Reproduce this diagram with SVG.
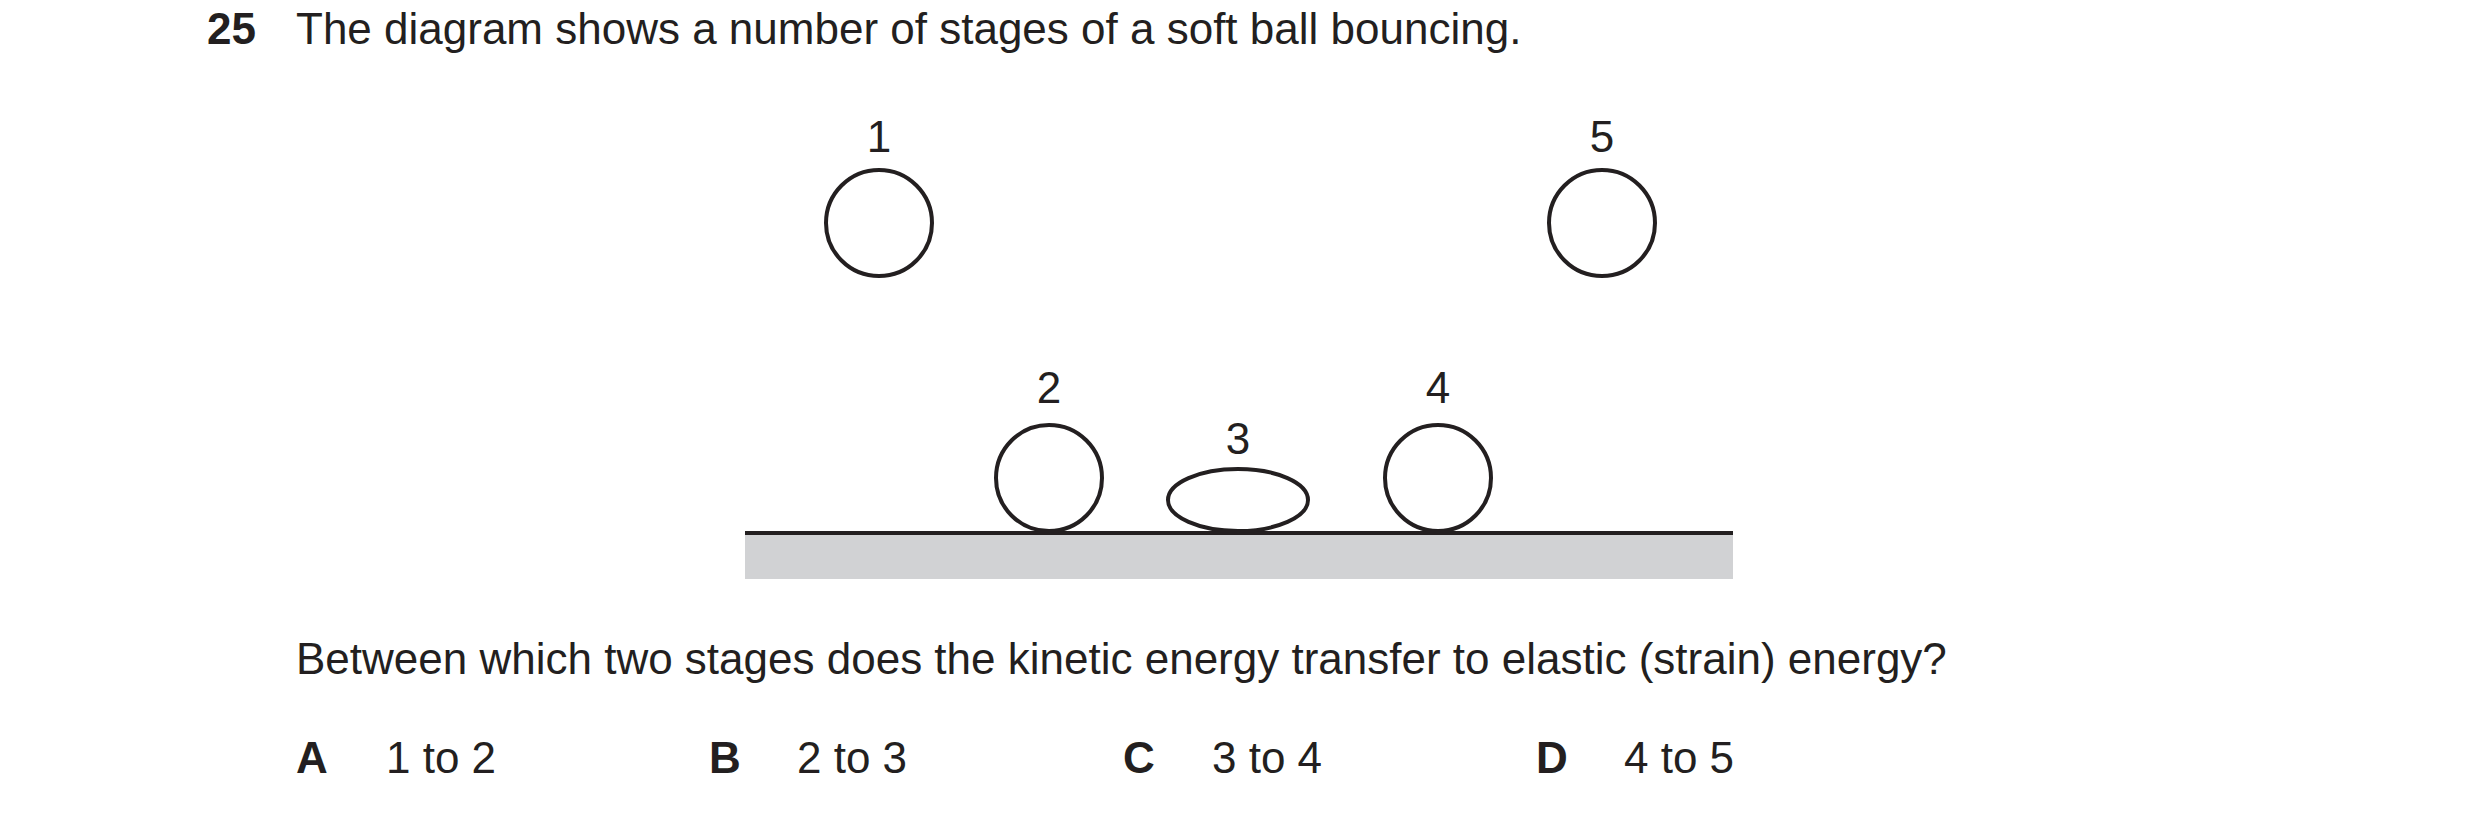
<svg xmlns="http://www.w3.org/2000/svg" width="2480" height="813" viewBox="0 0 2480 813">
<style>
text{font-family:"Liberation Sans",Arial,sans-serif;font-size:44px;fill:#231f20}
.b{font-weight:bold}
.lbl{text-anchor:middle}
.ball{fill:#fff;stroke:#231f20;stroke-width:4}
</style>
<rect width="2480" height="813" fill="#fff"/>
<text x="207" y="44" class="b">25</text>
<text x="296" y="44">The diagram shows a number of stages of a soft ball bouncing.</text>
<g id="ground">
<rect x="745" y="533" width="988" height="46" fill="#d1d2d4"/>
<line x1="745" y1="533" x2="1733" y2="533" stroke="#231f20" stroke-width="4"/>
</g>
<g id="ball1"><text x="879" y="152" class="lbl">1</text><circle class="ball" cx="879" cy="223" r="53"/></g>
<g id="ball5"><text x="1602" y="152" class="lbl">5</text><circle class="ball" cx="1602" cy="223" r="53"/></g>
<g id="ball2"><text x="1049" y="403" class="lbl">2</text><circle class="ball" cx="1049" cy="478" r="53"/></g>
<g id="ball3"><text x="1238" y="454" class="lbl">3</text><ellipse class="ball" cx="1238" cy="500" rx="70" ry="31"/></g>
<g id="ball4"><text x="1438" y="403" class="lbl">4</text><circle class="ball" cx="1438" cy="478" r="53"/></g>
<g id="connectors"></g>
<text x="296" y="674">Between which two stages does the kinetic energy transfer to elastic (strain) energy?</text>
<text x="296" y="773" class="b">A</text><text x="386" y="773">1 to 2</text>
<text x="709" y="773" class="b">B</text><text x="797" y="773">2 to 3</text>
<text x="1123" y="773" class="b">C</text><text x="1212" y="773">3 to 4</text>
<text x="1536" y="773" class="b">D</text><text x="1624" y="773">4 to 5</text>
</svg>
